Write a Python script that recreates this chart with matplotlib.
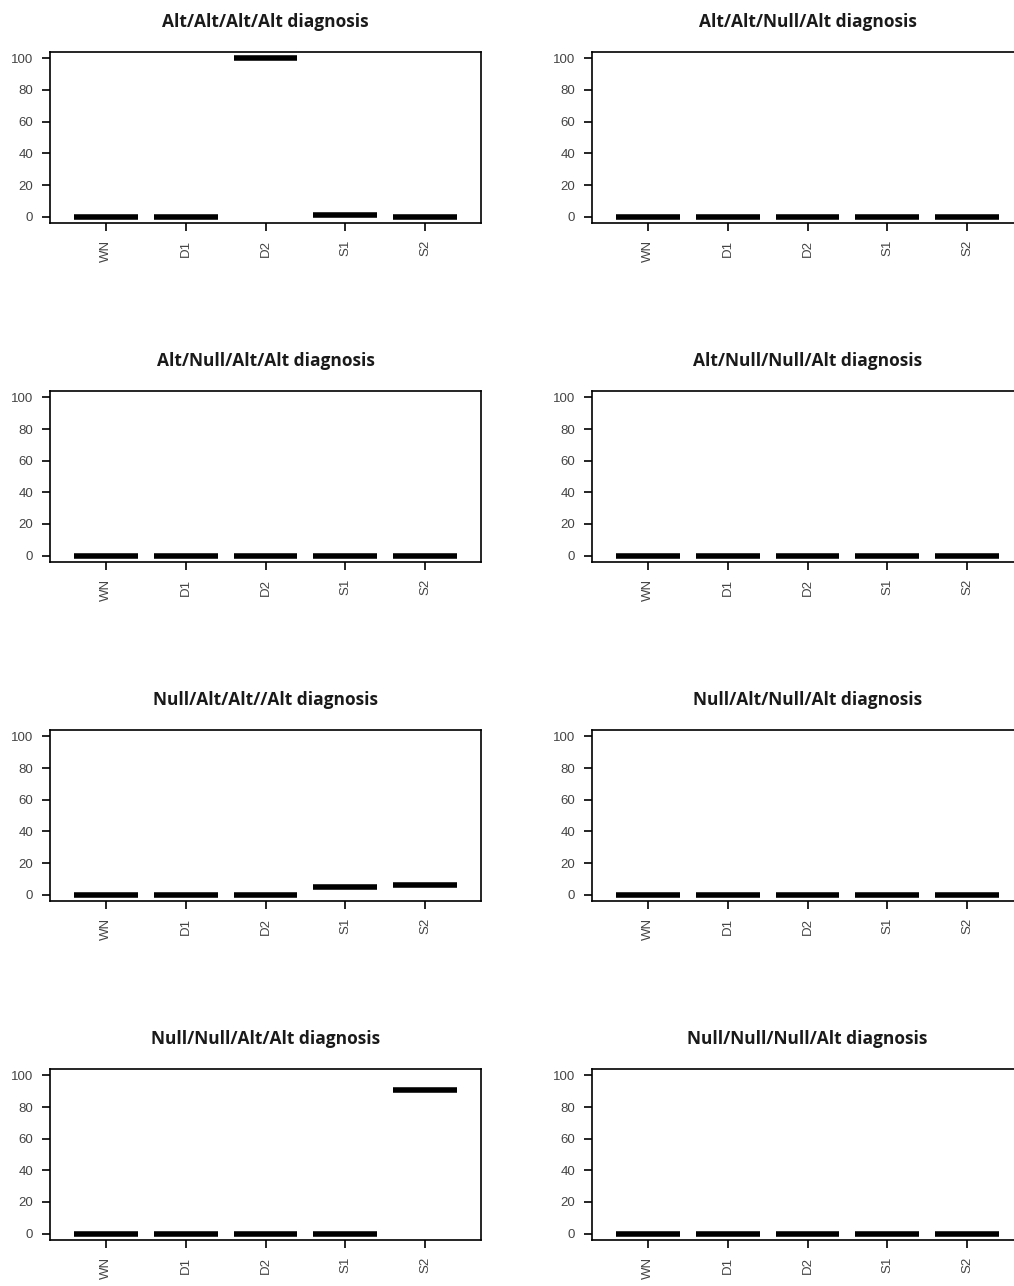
import matplotlib
matplotlib.use("Agg")
import matplotlib.pyplot as plt
import numpy as np

# categories and per-panel values (percent)
categories = ['WN', 'D1', 'D2', 'S1', 'S2']
titles = ['Alt/Alt/Alt/Alt diagnosis', 'Alt/Alt/Null/Alt diagnosis',
          'Alt/Null/Alt/Alt diagnosis', 'Alt/Null/Null/Alt diagnosis',
          'Null/Alt/Alt//Alt diagnosis', 'Null/Alt/Null/Alt diagnosis',
          'Null/Null/Alt/Alt diagnosis', 'Null/Null/Null/Alt diagnosis']
vals_aaaa = [0, 0, 100, 1, 0]
vals_aana = [0, 0, 0, 0, 0]
vals_anaa = [0, 0, 0, 0, 0]
vals_anna = [0, 0, 0, 0, 0]
vals_naaa = [0, 0, 0, 5, 6]
vals_nana = [0, 0, 0, 0, 0]
vals_nnaa = [0, 0, 0, 0, 91]
vals_nnna = [0, 0, 0, 0, 0]
all_vals = [vals_aaaa, vals_aana, vals_anaa, vals_anna,
            vals_naaa, vals_nana, vals_nnaa, vals_nnna]
yticks = [0, 20, 40, 60, 80, 100]

W, H = 1014, 1286
fig = plt.figure(figsize=(W / 100, H / 100), dpi=100)

col_x = [50, 592]
row_top = [52, 391, 730, 1069]
aw, ah = 431, 171

for i, (title, vals) in enumerate(zip(titles, all_vals)):
    r, c = divmod(i, 2)
    x0 = col_x[c]
    top = row_top[r]
    ax = fig.add_axes([x0 / W, 1 - (top + ah) / H, aw / W, ah / H])
    pos = np.arange(1, len(categories) + 1)
    # boxplots of constant data collapse to a thick median line
    ax.hlines(vals, pos - 0.4, pos + 0.4, colors='black', linewidth=4,
              capstyle='butt')
    ax.set_xlim(0.3, 5.7)
    ax.set_ylim(-4, 104)
    ax.set_xticks(pos)
    ax.set_xticklabels(categories, rotation=90, fontsize=9.5,
                       family='Liberation Sans', color='#444444')
    ax.set_yticks(yticks)
    ax.set_yticklabels([str(v) for v in yticks], fontsize=9.5,
                       family='Liberation Sans', color='#444444')
    ax.tick_params(direction='out', length=6, width=1.2, pad=6)
    for s in ax.spines.values():
        s.set_linewidth(1.2)
    ax.set_title(title, fontsize=12.5, fontweight='bold', pad=18,
                 family='Open Sans', color='#1a1a1a')

fig.savefig('out.png', dpi=100)
